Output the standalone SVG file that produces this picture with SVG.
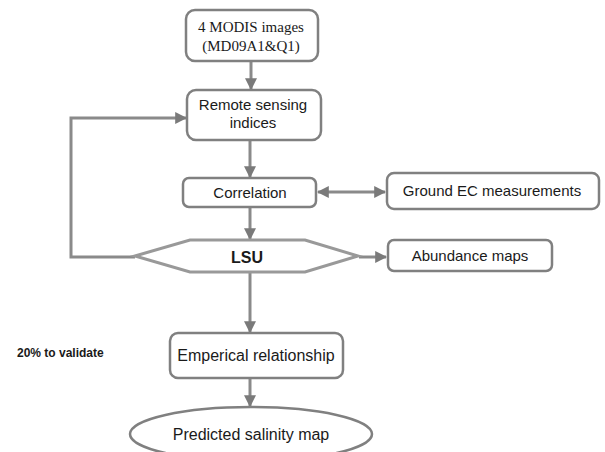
<svg xmlns="http://www.w3.org/2000/svg" width="605" height="452" viewBox="0 0 605 452">
<style>
.box{fill:#fff;stroke:#808080;stroke-width:2.5}
.ln{fill:none;stroke:#8a8a8a;stroke-width:3}
.t{font-family:"Liberation Sans",Arial,sans-serif;font-size:15px;fill:#1a1a1a;text-anchor:middle}
.s{font-family:"Liberation Serif","Times New Roman",serif;font-size:15px;fill:#1a1a1a;text-anchor:middle}
</style>
<defs>
<marker id="ah" viewBox="0 0 10 10" refX="9" refY="5" markerWidth="4" markerHeight="4" orient="auto-start-reverse" markerUnits="strokeWidth">
<path d="M0,0 L10,5 L0,10 z" fill="#7a7a7a"/>
</marker>
</defs>
<rect width="605" height="452" fill="#fff"/>
<g id="connectors">
<line class="ln" x1="251" y1="62" x2="251" y2="89" marker-end="url(#ah)"/>
<line class="ln" x1="250" y1="141" x2="250" y2="177" marker-end="url(#ah)"/>
<line class="ln" x1="318" y1="192" x2="385" y2="192" marker-start="url(#ah)" marker-end="url(#ah)"/>
<line class="ln" x1="250" y1="208" x2="250" y2="239" marker-end="url(#ah)"/>
<line class="ln" x1="359" y1="257" x2="386" y2="257" marker-end="url(#ah)"/>
<polyline class="ln" points="135,257 71,257 71,118 186,118" marker-end="url(#ah)"/>
<line class="ln" x1="250" y1="273" x2="250" y2="332" marker-end="url(#ah)"/>
<line class="ln" x1="250" y1="379" x2="250" y2="406" marker-end="url(#ah)"/>
</g>
<g id="modis">
<rect class="box" x="186" y="10" width="132" height="51" rx="9"/>
<text class="s" x="251" y="32">4 MODIS images</text>
<text class="s" x="251" y="51">(MD09A1&amp;Q1)</text>
</g>
<g id="rsi">
<rect class="box" x="187" y="90" width="134" height="50" rx="9"/>
<text class="t" x="253" y="110">Remote sensing</text>
<text class="t" x="253" y="128">indices</text>
</g>
<g id="correlation">
<rect class="box" x="183" y="178" width="133" height="29" rx="6"/>
<text class="t" x="250" y="198">Correlation</text>
</g>
<g id="ground">
<rect class="box" x="387" y="173" width="212" height="36" rx="7"/>
<text class="t" x="492" y="196">Ground EC measurements</text>
</g>
<g id="lsu">
<polygon class="box" style="stroke:#999;stroke-width:3" points="135,256 190,240 305,240 358,256 305,272 190,272"/>
<text class="t" x="247" y="263" style="font-weight:bold;font-size:16px">LSU</text>
</g>
<g id="abundance">
<rect class="box" x="388" y="240" width="164" height="31" rx="6"/>
<text class="t" x="470" y="261">Abundance maps</text>
</g>
<g id="empirical">
<rect class="box" x="170" y="333" width="173" height="45" rx="8"/>
<text class="t" x="256" y="361" style="font-size:16px">Emperical relationship</text>
</g>
<g id="predicted">
<ellipse class="box" cx="251" cy="434" rx="121" ry="27"/>
<text class="t" x="251" y="440" style="font-size:16px">Predicted salinity map</text>
</g>
<g id="note">
<text x="17" y="357" style="font-family:'Liberation Sans',Arial,sans-serif;font-size:12px;font-weight:bold;fill:#1a1a1a">20% to validate</text>
</g>
</svg>
